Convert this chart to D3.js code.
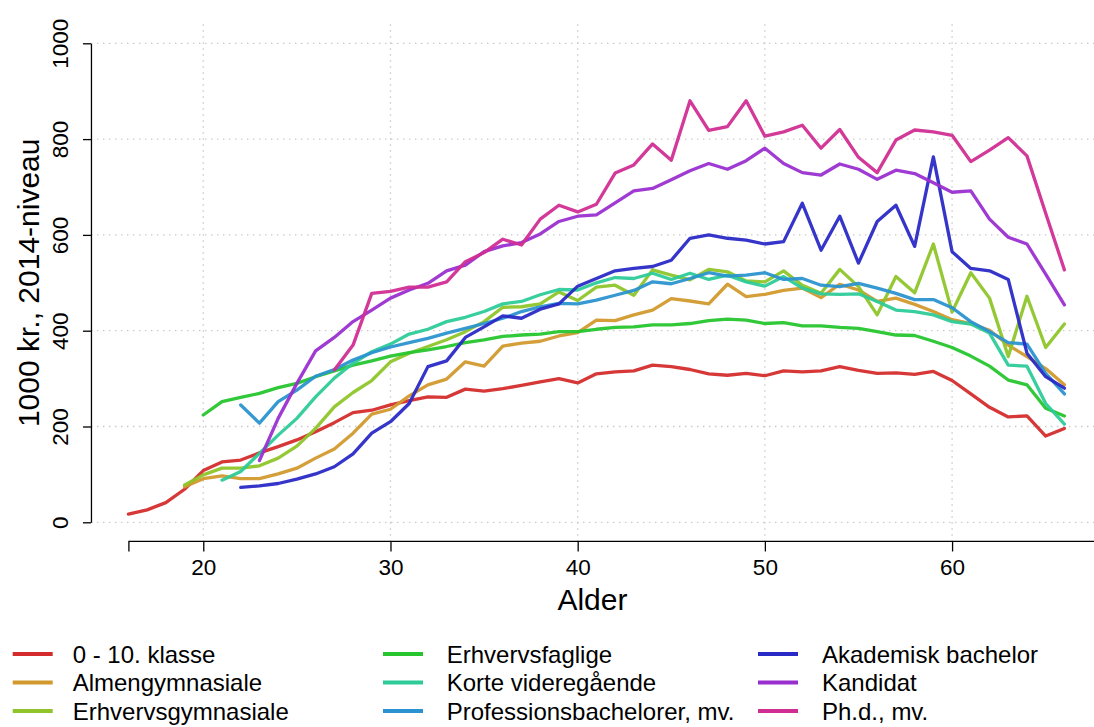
<!DOCTYPE html>
<html>
<head>
<meta charset="utf-8">
<script src="https://cdn.jsdelivr.net/npm/d3@7"></script>
<style>
  html, body { margin: 0; padding: 0; background: #fff; }
  svg { display: block; font-family: "Liberation Sans", Arial, Helvetica, sans-serif; }
</style>
</head>
<body>
<svg id="chart" width="1094" height="727"></svg>
<script>
// Income (1000 kr., 2014 level) by age and highest completed education
const seriesNames = [
  "0 - 10. klasse", "Almengymnasiale", "Erhvervsgymnasiale",
  "Erhvervsfaglige", "Korte videregående", "Professionsbachelorer, mv.",
  "Akademisk bachelor", "Kandidat", "Ph.d., mv."
];
const seriesColors = [
  "#d42c2c", "#d29a2e", "#8fc52a",
  "#26c52e", "#2dcb98", "#2b93d0",
  "#2a2ac6", "#9a2fd0", "#d02e92"
];
// first age of each series
const startAges = [16, 19, 19, 20, 21, 22, 22, 23, 27];

const grundskole = [17, 26, 41, 69, 108, 126, 130, 145, 158, 172, 189, 208, 229, 234, 245, 254, 262, 261, 278, 274, 279, 286, 293, 300, 291, 310, 314, 316, 328, 325, 319, 310, 307, 311, 306, 316, 314, 316, 325, 317, 311, 312, 309, 315, 296, 268, 240, 220, 222, 180, 196];
const almengym = [74, 91, 97, 91, 91, 101, 113, 134, 153, 186, 226, 236, 264, 287, 299, 335, 326, 368, 374, 378, 389, 396, 422, 421, 433, 443, 467, 462, 456, 497, 471, 476, 484, 489, 469, 497, 485, 461, 468, 455, 440, 423, 415, 401, 370, 346, 321, 287];
const erhvgym = [78, 99, 113, 113, 118, 134, 159, 196, 241, 271, 296, 335, 353, 367, 381, 398, 419, 449, 450, 456, 481, 463, 491, 495, 474, 527, 516, 506, 528, 523, 504, 502, 525, 495, 478, 528, 492, 433, 513, 479, 581, 439, 521, 468, 346, 472, 365, 414];
const erhvfaglige = [224, 252, 261, 269, 281, 290, 304, 316, 328, 337, 347, 354, 360, 367, 375, 381, 388, 391, 393, 398, 398, 403, 407, 408, 412, 412, 415, 421, 424, 422, 415, 417, 410, 410, 407, 405, 398, 391, 390, 378, 365, 347, 326, 297, 287, 238, 222];
const korteVid = [88, 106, 144, 182, 217, 262, 301, 332, 356, 372, 393, 403, 419, 428, 440, 456, 461, 475, 486, 485, 500, 511, 509, 520, 507, 520, 507, 516, 502, 493, 513, 489, 477, 476, 477, 461, 443, 440, 433, 419, 414, 395, 328, 326, 248, 205];
const profBach = [245, 207, 252, 276, 305, 319, 339, 354, 366, 375, 384, 395, 405, 415, 426, 440, 450, 457, 456, 464, 474, 484, 502, 498, 509, 521, 514, 516, 521, 507, 509, 495, 492, 499, 489, 478, 465, 465, 448, 419, 398, 375, 372, 311, 268];
const akadBach = [73, 76, 81, 90, 101, 116, 143, 186, 210, 248, 325, 337, 386, 408, 431, 426, 445, 456, 493, 509, 525, 530, 534, 547, 593, 600, 593, 589, 581, 586, 666, 568, 639, 541, 628, 662, 576, 763, 565, 530, 525, 507, 353, 304, 280];
const kandidat = [129, 217, 290, 358, 386, 419, 443, 468, 485, 499, 525, 537, 565, 577, 584, 602, 628, 639, 642, 667, 692, 697, 715, 734, 749, 737, 755, 781, 749, 730, 725, 748, 737, 716, 735, 728, 709, 689, 692, 633, 595, 581, 518, 454];
const phd = [318, 370, 478, 482, 491, 491, 502, 544, 563, 591, 579, 633, 662, 648, 664, 729, 746, 790, 756, 880, 818, 826, 880, 806, 815, 829, 781, 820, 762, 730, 798, 819, 815, 808, 753, 777, 803, 765, 645, 527];

const seriesValues = [grundskole, almengym, erhvgym, erhvfaglige, korteVid, profBach, akadBach, kandidat, phd];

const xTicks = [20, 30, 40, 50, 60];
const yTicks = [0, 200, 400, 600, 800, 1000];

const svg = d3.select("#chart");
const W = 1094, H = 727;

// plot region (data range padded by 4% on each side)
const x = d3.scaleLinear().domain([16, 66]).range([128.4, 1064.4]);
const y = d3.scaleLinear().domain([0, 1000]).range([522.3, 43.3]);
const plotLeft = x(14), plotRight = x(68);
const plotTop = y(1040), plotBottom = y(-40);

svg.append("rect").attr("width", W).attr("height", H).attr("fill", "#fff");

// dotted grid
const grid = svg.append("g").attr("stroke", "#c9c9c9").attr("stroke-width", 1.3)
  .attr("stroke-dasharray", "1.5,4.5");
grid.selectAll("line.h").data(yTicks).join("line")
  .attr("x1", plotLeft).attr("x2", plotRight)
  .attr("y1", d => y(d)).attr("y2", d => y(d));
grid.selectAll("line.v").data(xTicks).join("line")
  .attr("y1", plotTop).attr("y2", plotBottom)
  .attr("x1", d => x(d)).attr("x2", d => x(d));

// series lines
const line = d3.line().x(d => x(d.age)).y(d => y(d.v));
seriesValues.forEach((vals, i) => {
  const pts = vals.map((v, j) => ({ age: startAges[i] + j, v }));
  svg.append("path")
    .attr("d", line(pts))
    .attr("fill", "none")
    .attr("stroke", seriesColors[i])
    .attr("stroke-width", 3.3)
    .attr("stroke-linejoin", "round")
    .attr("stroke-linecap", "round")
    .attr("stroke-opacity", 0.95);
});

// x axis
const xAxis = d3.axisBottom(x)
  .tickValues([16].concat(xTicks))
  .tickFormat(d => d === 16 ? "" : d)
  .tickSizeInner(10).tickSizeOuter(0).tickPadding(8);
const gx = svg.append("g").attr("transform", `translate(0,${plotBottom})`).call(xAxis);
gx.select(".domain").attr("d", `M${x(16)},0H${plotRight}`).attr("stroke", "#000").attr("stroke-width", 1.3);
gx.selectAll(".tick line").attr("stroke", "#000").attr("stroke-width", 1.3);
gx.selectAll(".tick text").attr("font-size", 22.5).attr("fill", "#000")
  .attr("font-family", "'Liberation Sans', Arial, sans-serif");

// y axis with rotated labels
const yAxis = d3.axisLeft(y).tickValues(yTicks).tickSizeInner(8).tickSizeOuter(0).tickFormat(d3.format("d"));
const gy = svg.append("g").attr("transform", `translate(${plotLeft},0)`).call(yAxis);
gy.select(".domain").attr("stroke", "#000").attr("stroke-width", 1.3);
gy.selectAll(".tick line").attr("stroke", "#000").attr("stroke-width", 1.3);
gy.selectAll(".tick text")
  .attr("font-size", 22.5).attr("fill", "#000")
  .attr("font-family", "'Liberation Sans', Arial, sans-serif")
  .attr("x", null).attr("dy", null)
  .attr("text-anchor", "middle")
  .attr("transform", "translate(-23,0) rotate(-90)")
  .attr("dy", "0em");

// axis titles
svg.append("text")
  .attr("x", (x(14) + x(68)) / 2 - 4).attr("y", 610)
  .attr("text-anchor", "middle").attr("font-size", 30).attr("fill", "#000")
  .text("Alder");
svg.append("text")
  .attr("transform", `translate(39,${(plotTop + plotBottom) / 2}) rotate(-90)`)
  .attr("text-anchor", "middle").attr("font-size", 30).attr("fill", "#000")
  .text("1000 kr., 2014-niveau");

// legend in three columns
const legendLineX = [12.7, 383, 758];
const legendTextX = [72.7, 446.7, 822];
const legendRows = [654, 682.5, 711];
const legend = svg.append("g");
seriesNames.forEach((name, i) => {
  const c = Math.floor(i / 3);
  const cy = legendRows[i % 3];
  legend.append("line")
    .attr("x1", legendLineX[c]).attr("x2", legendLineX[c] + 40)
    .attr("y1", cy).attr("y2", cy)
    .attr("stroke", seriesColors[i]).attr("stroke-width", 4);
  legend.append("text")
    .attr("x", legendTextX[c]).attr("y", cy + 8.5)
    .attr("font-size", 24).attr("fill", "#000")
    .text(name);
});
</script>
</body>
</html>
